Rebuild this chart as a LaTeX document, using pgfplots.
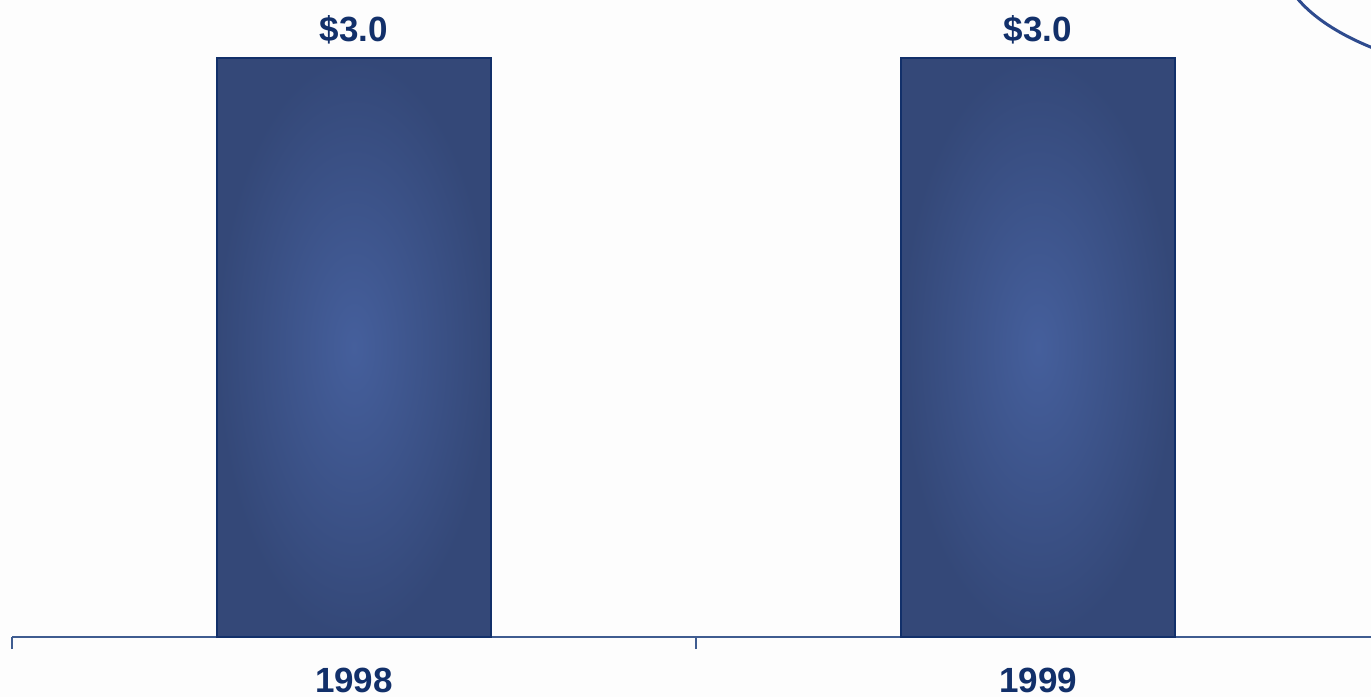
\documentclass[border=0pt]{standalone}
\usepackage{pgfplots}
\pgfplotsset{compat=1.18}
\usepackage{fontspec}
\setmainfont{Liberation Sans}
\definecolor{navy}{HTML}{12306A}
\definecolor{barin}{HTML}{455F9C}
\definecolor{barout}{HTML}{344878}
\definecolor{axisline}{HTML}{3F5C90}
\definecolor{ovalline}{HTML}{2E4B8E}
\definecolor{bg}{HTML}{FDFDFD}

\begin{document}
\begin{tikzpicture}
\useasboundingbox (0,0) rectangle (685.5pt,348.5pt);
\fill[bg] (0,0) rectangle (685.5pt,348.5pt);
\clip (0,0) rectangle (685.5pt,348.5pt);
% oval callout, cut off at the corner
\draw[ovalline, line width=1.5pt] (780pt,371pt) ellipse [x radius=140pt, y radius=62.5pt];
\begin{axis}[
    at={(6pt,30pt)}, anchor=south west,
    scale only axis, width=684pt, height=318.5pt,
    xmin=-0.5, xmax=1.5, ymin=0, ymax=3.3,
    axis x line*=bottom, axis y line=none,
    x axis line style={axisline, line width=1pt, -},
    xtick={0,1}, xticklabels={1998,1999},
    major tick length=0pt,
    minor xtick={-0.5,0.5,1.5}, minor tick length=6pt, tick align=outside,
    every tick/.style={axisline, line width=1pt},
    ytick=\empty,
    xticklabel style={font=\fontsize{17.5}{21}\selectfont\bfseries, text=navy, anchor=center, yshift=-21.5pt},
    ybar, bar width=137pt, bar shift=0pt,
    /pgf/number format/assume math mode=true,
    nodes near coords={\$\pgfmathprintnumber[fixed,fixed zerofill,precision=1]{\pgfplotspointmeta}},
    every node near coord/.append style={font=\fontsize{17.5}{21}\selectfont\bfseries, text=navy, anchor=center, yshift=14pt},
    clip=false,
]
\addplot[draw=navy, line width=1pt, shading=radial, inner color=barin, outer color=barout]
    coordinates {(0,3.0)};
\addplot[draw=navy, line width=1pt, shading=radial, inner color=barin, outer color=barout]
    coordinates {(1,3.0)};
\end{axis}
\end{tikzpicture}
\end{document}
